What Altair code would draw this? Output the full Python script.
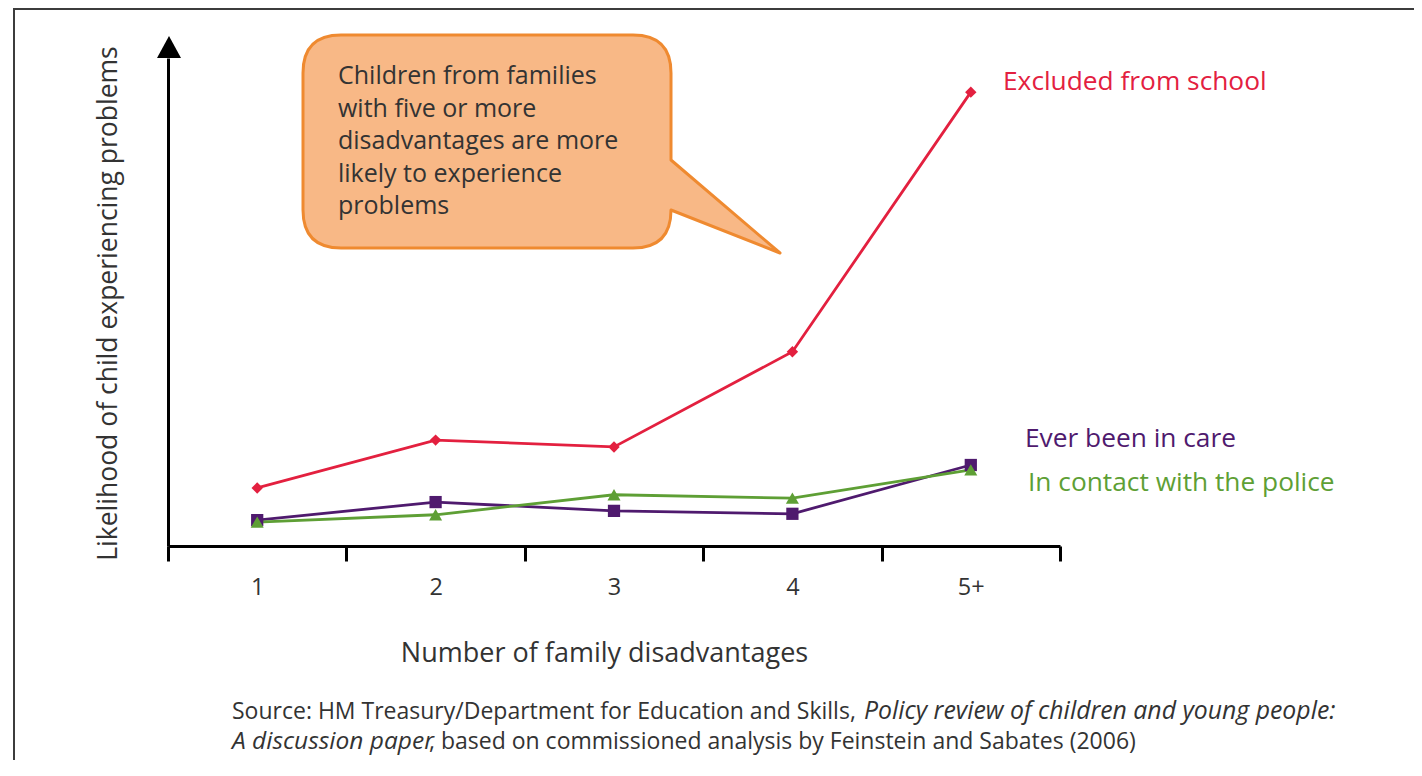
import altair as alt
import pandas as pd

# ---- data ----
categories = ["1", "2", "3", "4", "5+"]
series_names = ["Excluded from school", "Ever been in care", "In contact with the police"]
excluded = [11.9, 21.7, 20.3, 39.8, 93.0]
in_care = [5.3, 9.0, 7.2, 6.6, 16.6]
police = [4.9, 6.4, 10.5, 9.8, 15.6]

series_colors = ["#E3203F", "#4F1A6E", "#5E9F35"]
series_shapes = ["diamond", "square", "triangle-up"]

rows = []
for name, vals in zip(series_names, [excluded, in_care, police]):
    for c, v in zip(categories, vals):
        rows.append({"n": c, "series": name, "value": v})
df = pd.DataFrame(rows)

FONT = "Open Sans"
TEXT = "#333333"

# plot area placement on the page (absolute px): left 168, top 58
W, H = 892, 488
PAD_L, PAD_T = 160, 50
PAD_R = 1406 - PAD_L - W
PAD_B = 752 - PAD_T - H

one = pd.DataFrame({"k": [0]})

x_enc = alt.X(
    "n:N",
    sort=categories,
    bandPosition=0.5,
    scale=alt.Scale(type="band", domain=categories, paddingInner=0, paddingOuter=0),
    axis=alt.Axis(
        title="Number of family disadvantages",
        titleFont=FONT, titleFontSize=27, titleFontWeight="normal", titleColor=TEXT,
        titleY=107, titleX=436, titleAnchor="middle", titleBaseline="middle",
        labelFont=FONT, labelFontSize=23.5, labelColor=TEXT, labelPadding=14,
        labelAngle=0,
        domainColor="black", domainWidth=3,
        tickColor="black", tickWidth=3, tickSize=15, tickBand="extent",
        grid=False,
    ),
)
y_enc = alt.Y(
    "value:Q",
    scale=alt.Scale(domain=[0, 100]),
    axis=alt.Axis(
        title="Likelihood of child experiencing problems",
        titleFont=FONT, titleFontSize=26.5, titleFontWeight="normal", titleColor=TEXT,
        titleX=-60, titleY=245, titleAngle=270, titleAlign="center", titleBaseline="middle",
        labels=False, ticks=False, grid=False,
        domainColor="black", domainWidth=3,
    ),
)
color_enc = alt.Color("series:N", scale=alt.Scale(domain=series_names, range=series_colors), legend=None)

frame = alt.Chart(one).mark_rect(filled=False, stroke="#3c3c3c", strokeWidth=2).encode(
    x=alt.value(-154), x2=alt.value(1400), y=alt.value(-49), y2=alt.value(900)
)

callout_path = (
    "M173,-23 L465,-23 Q503,-23 503,15 L503,102 L612,195 L503,152 "
    "Q503,190 465,190 L173,190 Q135,190 135,152 L135,15 Q135,-23 173,-23 Z"
)
callout = alt.Chart(one).mark_point(
    shape=callout_path, size=4, filled=True, fill="#F8B886", stroke="#EF8A30",
    strokeWidth=3, opacity=1, strokeJoin="round",
).encode(x=alt.value(0), y=alt.value(0))

callout_lines = [
    "Children from families",
    "with five or more",
    "disadvantages are more",
    "likely to experience",
    "problems",
]
callout_text = alt.Chart(one).mark_text(
    text=callout_lines, align="left", baseline="middle", font=FONT, fontSize=25,
    color=TEXT, lineHeight=32.5,
).encode(x=alt.value(170), y=alt.value(18))

arrow = alt.Chart(one).mark_point(
    shape="M0,-22 L12,0 L-12,0 Z", size=4, filled=True, fill="black", opacity=1,
).encode(x=alt.value(1), y=alt.value(0))

base = alt.Chart(df).encode(x=x_enc, y=y_enc, color=color_enc)
lines = base.mark_line(strokeWidth=2.8)
points = base.mark_point(filled=True, opacity=1).encode(
    shape=alt.Shape("series:N", scale=alt.Scale(domain=series_names, range=series_shapes), legend=None),
    size=alt.Size("series:N", scale=alt.Scale(domain=series_names, range=[130, 170, 170]), legend=None),
)

label_x = [835, 857, 860]
label_y = [24, 381, 425]
labels = []
for name, col, lx, ly in zip(series_names, series_colors, label_x, label_y):
    labels.append(
        alt.Chart(one).mark_text(
            text=name, align="left", baseline="middle", font=FONT, fontSize=26.3, color=col
        ).encode(x=alt.value(lx), y=alt.value(ly))
    )

src_style = dict(align="left", baseline="middle", font=FONT, color=TEXT)
src1a = alt.Chart(one).mark_text(
    text="Source: HM Treasury/Department for Education and Skills,", fontSize=23, **src_style
).encode(x=alt.value(64), y=alt.value(654))
src1b = alt.Chart(one).mark_text(
    text="Policy review of children and young people:", fontStyle="italic", fontSize=24.8, **src_style
).encode(x=alt.value(696), y=alt.value(654))
src2a = alt.Chart(one).mark_text(
    text="A discussion paper", fontStyle="italic", fontSize=24.5, **src_style
).encode(x=alt.value(64), y=alt.value(684))
src2b = alt.Chart(one).mark_text(
    text=", based on commissioned analysis by Feinstein and Sabates (2006)", fontSize=23, **src_style
).encode(x=alt.value(261), y=alt.value(684))

chart = alt.layer(
    frame, callout, callout_text, lines, points, arrow, *labels, src1a, src1b, src2a, src2b
).properties(
    width=W, height=H,
    padding={"left": PAD_L, "top": PAD_T, "right": PAD_R, "bottom": PAD_B},
    autosize=alt.AutoSizeParams(type="none"),
    background="white",
).configure_view(stroke=None)

chart.save("out.html", embed_options={"renderer": "svg", "actions": False})
